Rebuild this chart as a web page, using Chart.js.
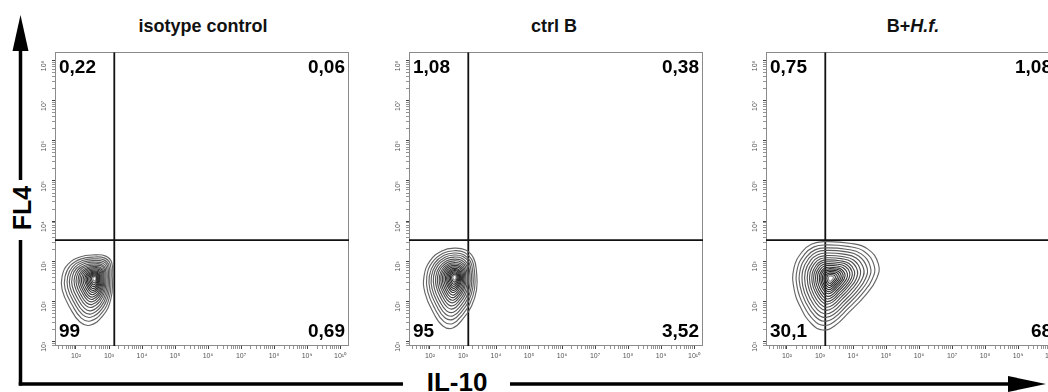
<!DOCTYPE html>
<html>
<head>
<meta charset="utf-8">
<script src="https://cdn.jsdelivr.net/npm/chart.js@4.4.1/dist/chart.umd.min.js"></script>
<style>
  html, body { margin: 0; padding: 0; background: #fff; }
  body { position: relative; width: 1048px; height: 392px; overflow: hidden; font-family: "Liberation Sans", Arial, sans-serif; }
  canvas.panel { position: absolute; top: 40px; }
  .title { position: absolute; top: 16px; font-size: 18px; font-weight: bold; transform: translateX(-50%); white-space: nowrap; color: #111; }
  .axis-label { position: absolute; font-weight: bold; color: #000; white-space: nowrap; }
  #fl4 { left: 22px; top: 208px; font-size: 25px; transform: translate(-50%, -50%) rotate(-90deg); }
  #il10 { left: 457px; top: 382px; font-size: 26px; transform: translate(-50%, -50%); }
  svg { position: absolute; left: 0; top: 0; }
</style>
</head>
<body>
<svg width="1048" height="392">
  <line x1="20.5" y1="48" x2="20.5" y2="180" stroke="#000" stroke-width="3.5"/>
  <line x1="20.5" y1="240" x2="20.5" y2="385.5" stroke="#000" stroke-width="3.5"/>
  <polygon points="20.5,15 12.5,51 28.5,51" fill="#000"/>
  <line x1="18.75" y1="384" x2="403" y2="384" stroke="#000" stroke-width="3.5"/>
  <line x1="510" y1="384" x2="1012" y2="384" stroke="#000" stroke-width="3.5"/>
  <polygon points="1046,384 1008,376 1008,392" fill="#000"/>
</svg>
<div class="axis-label" id="fl4">FL4</div>
<div class="axis-label" id="il10">IL-10</div>
<div class="title" style="left:203px">isotype control</div>
<div class="title" style="left:554px">ctrl B</div>
<div class="title" style="left:913px">B+<i>H.f.</i></div>
<canvas class="panel" id="p1" width="328" height="328" style="left:33px"></canvas>
<canvas class="panel" id="p2" width="328" height="328" style="left:387px"></canvas>
<canvas class="panel" id="p3" width="328" height="328" style="left:744px"></canvas>
<script>
// axis ranges, in decades (log10 of intensity)
const xMin = 1.364, xMax = 10.27;
const yMin = 0.893, yMax = 8.205;
const xTickExp = [2, 3, 4, 5, 6, 7, 8, 9, 10];
const yTickExp = [1, 2, 3, 4, 5, 6, 7, 8];

// quadrant gates
const gateX = 3.16;
const gateY = 3.53;

// quadrant percentages: upper-left, upper-right, lower-left, lower-right
const quadUL = ['0,22', '1,08', '0,75'];
const quadUR = ['0,06', '0,38', '1,08'];
const quadLL = ['99', '95', '30,1'];
const quadLR = ['0,69', '3,52', '68,1'];

// contour levels (relative size of each ring vs. the outermost one)
const ringLevels = [1, 0.91, 0.83, 0.76, 0.69, 0.62, 0.56, 0.5, 0.45, 0.4, 0.35, 0.3, 0.26, 0.22, 0.18, 0.14, 0.1, 0.06];
const ringShades = ['#666', '#646464', '#606060', '#5c5c5c', '#585858', '#545454', '#505050', '#4a4a4a', '#444',
  '#3e3e3e', '#383838', '#333', '#2e2e2e', '#2a2a2a', '#282828', '#2a2a2a', '#3a3a3a', '#888'];

// population peak and outermost contour, [x, y] in decades
const isoCenter = [2.57, 2.58];
const isoOuter = [[2.57, 3.16], [2.90, 3.13], [3.08, 2.98], [3.11, 2.53], [3.05, 2.04], [2.81, 1.64],
  [2.42, 1.41], [2.12, 1.49], [1.82, 1.84], [1.58, 2.29], [1.58, 2.63], [1.76, 2.93], [2.12, 3.11]];

const ctrlCenter = [2.75, 2.61];
const ctrlOuter = [[2.75, 3.33], [3.08, 3.28], [3.32, 3.08], [3.41, 2.73], [3.41, 2.29], [3.26, 1.89],
  [3.02, 1.59], [2.69, 1.34], [2.39, 1.39], [2.09, 1.74], [1.85, 2.21], [1.82, 2.63], [2.00, 3.01], [2.36, 3.26]];

const hfCenter = [3.32, 2.58];
const hfOuter = [[3.14, 3.49], [3.89, 3.45], [4.44, 3.31], [4.77, 2.93], [4.71, 2.56], [4.38, 2.16],
  [3.89, 1.74], [3.44, 1.39], [3.08, 1.29], [2.75, 1.44], [2.42, 1.84], [2.21, 2.33], [2.21, 2.83],
  [2.45, 3.23], [2.75, 3.43]];

const SUP = { '0': '⁰', '1': '¹', '2': '²', '3': '³', '4': '⁴', '5': '⁵', '6': '⁶', '7': '⁷', '8': '⁸', '9': '⁹' };
const tenTo = (n) => '10' + String(n).split('').map(d => SUP[d]).join('');

// decade ticks plus log-spaced minor ticks
function logTicks(exps, lo, hi) {
  const out = [];
  for (let n = exps[0] - 1; n <= exps[exps.length - 1]; n++) {
    for (let k = 1; k <= 9; k++) {
      const v = n + Math.log10(k);
      if (v >= lo && v <= hi) out.push({ value: v, major: k === 1 });
    }
  }
  return out;
}

// close each contour ring into a smooth loop
const closeRings = {
  id: 'closeRings',
  afterDatasetUpdate(chart, args) {
    const ds = chart.data.datasets[args.index];
    if (!ds.ring) return;
    const line = args.meta.dataset;
    line._loop = true;
    line._fullLoop = true;
  }
};

const frame = {
  id: 'frame',
  beforeDatasetsDraw(chart) {
    const { ctx, chartArea: a } = chart;
    ctx.save();
    ctx.strokeStyle = '#8a8a8a';
    ctx.lineWidth = 1;
    ctx.strokeRect(Math.round(a.left) + 0.5, Math.round(a.top) + 0.5, Math.round(a.width) - 1, Math.round(a.height) - 1);
    ctx.restore();
  }
};

const quadLabels = {
  id: 'quadLabels',
  afterDraw(chart, args, opts) {
    const { ctx, chartArea: a } = chart;
    ctx.save();
    ctx.font = 'bold 19px "Liberation Sans", Arial, sans-serif';
    ctx.fillStyle = '#000';
    ctx.textBaseline = 'middle';
    ctx.textAlign = 'left';
    ctx.fillText(opts.ul, a.left + 4, a.top + 16);
    ctx.fillText(opts.ll, a.left + 4, a.bottom - 14);
    ctx.textAlign = 'right';
    ctx.fillText(opts.ur, a.right - opts.urInset, a.top + 16);
    ctx.fillText(opts.lr, a.right - opts.lrInset, a.bottom - 14);
    ctx.restore();
  }
};

function makePanel(id, i, center, outer, insets) {
  const datasets = ringLevels.map((s, r) => ({
    ring: true,
    data: outer.map(([x, y]) => ({ x: center[0] + (x - center[0]) * s, y: center[1] + (y - center[1]) * s })),
    borderColor: ringShades[r],
    borderWidth: 1.15,
    pointRadius: 0,
    tension: 0.45,
    showLine: true,
    fill: false,
  }));
  datasets.push({
    data: [{ x: gateX, y: yMin }, { x: gateX, y: yMax }],
    borderColor: '#111', borderWidth: 1.8, pointRadius: 0, showLine: true,
  });
  datasets.push({
    data: [{ x: xMin, y: gateY }, { x: xMax, y: gateY }],
    borderColor: '#111', borderWidth: 1.8, pointRadius: 0, showLine: true,
  });

  const tickFont = { family: '"Liberation Sans", Arial, sans-serif', size: 7 };

  return new Chart(document.getElementById(id), {
    type: 'scatter',
    data: { datasets },
    options: {
      responsive: false,
      animation: false,
      devicePixelRatio: 1,
      layout: { padding: { top: 12, right: 12, left: 0, bottom: 0 } },
      plugins: {
        legend: { display: false },
        tooltip: { enabled: false },
        quadLabels: { ul: quadUL[i], ur: quadUR[i], ll: quadLL[i], lr: quadLR[i], urInset: insets[0], lrInset: insets[1] },
      },
      scales: {
        x: {
          type: 'linear', min: xMin, max: xMax,
          afterBuildTicks: (scale) => { scale.ticks = logTicks(xTickExp, xMin, xMax); },
          afterFit: (scale) => { scale.height = 22; },
          border: { display: false },
          grid: {
            drawOnChartArea: false, drawTicks: true, tickLength: 3,
            tickColor: (c) => (c.tick && c.tick.major ? '#444' : '#888'),
            tickWidth: (c) => (c.tick && c.tick.major ? 1 : 0.9),
          },
          ticks: {
            autoSkip: false, maxRotation: 0, minRotation: 0, padding: 3,
            color: '#555', font: tickFont,
            callback: (v, idx, ticks) => (ticks[idx].major ? tenTo(Math.round(v)) : ''),
          },
        },
        y: {
          type: 'linear', min: yMin, max: yMax,
          afterBuildTicks: (scale) => { scale.ticks = logTicks(yTickExp, yMin, yMax); },
          afterFit: (scale) => { scale.width = 22; },
          border: { display: false },
          grid: {
            drawOnChartArea: false, drawTicks: true, tickLength: 3,
            tickColor: (c) => (c.tick && c.tick.major ? '#444' : '#888'),
            tickWidth: (c) => (c.tick && c.tick.major ? 1 : 0.9),
          },
          ticks: {
            autoSkip: false, minRotation: 90, maxRotation: 90, padding: 8,
            color: '#555', font: tickFont,
            callback: (v, idx, ticks) => (ticks[idx].major ? tenTo(Math.round(v)) : ''),
          },
        },
      },
    },
    plugins: [closeRings, frame, quadLabels],
  });
}

makePanel('p1', 0, isoCenter, isoOuter, [4, 4]);
makePanel('p2', 1, ctrlCenter, ctrlOuter, [4, 4]);
makePanel('p3', 2, hfCenter, hfOuter, [8, -8]);
</script>
</body>
</html>
